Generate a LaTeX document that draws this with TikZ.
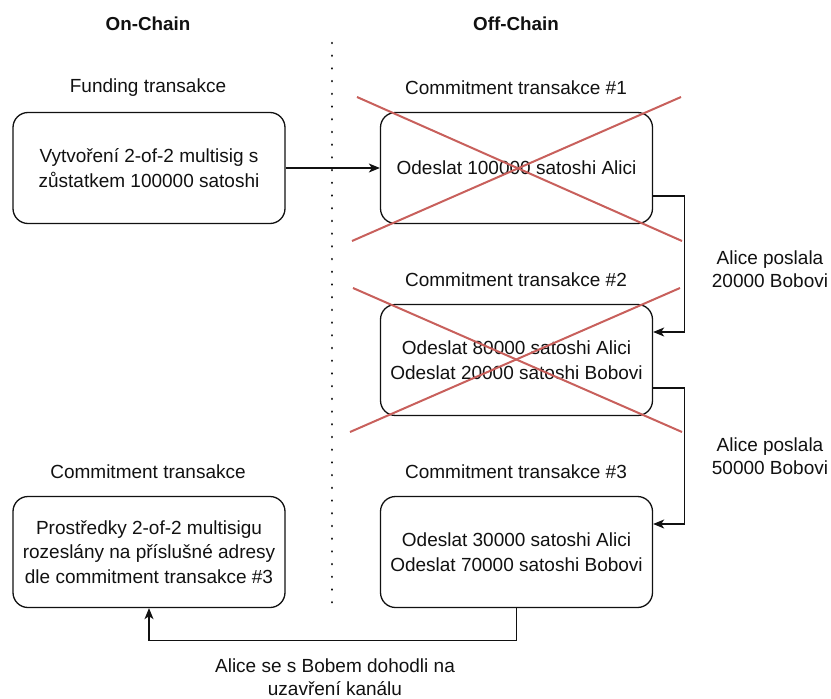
\documentclass[tikz,border=0pt]{standalone}
\usepackage{fontspec}
\setmainfont{Liberation Sans}
\usetikzlibrary{arrows.meta,positioning}
\definecolor{crossred}{HTML}{C8605C}
\definecolor{ink}{HTML}{111111}
\tikzset{
  txbox/.style={draw=ink, line width=1.3pt, rounded corners=15pt, minimum width=272pt,
    minimum height=111pt, align=center, font=\fontsize{19}{24.5}\selectfont, text=ink, inner sep=0pt},
  caption/.style={font=\fontsize{19}{22.5}\selectfont, text=ink, align=center, inner sep=0pt},
  header/.style={font=\bfseries\fontsize{18.8}{22}\selectfont, text=ink, inner sep=0pt},
  conn/.style={draw=ink, line width=1.2pt, -{Stealth[length=11pt,width=9pt,inset=3pt]}},
  cross/.style={draw=crossred, line width=2pt},
  divider/.style={draw=ink, line width=2.6pt, line cap=round, dash pattern=on 0.01pt off 12.7pt}
}
\begin{document}
\begin{tikzpicture}[x=1pt,y=-1pt]
\useasboundingbox (0,0) rectangle (831,699);

% column headers and divider
\node[header] (hon)  at (148,24) {On-Chain};
\node[header] (hoff) at (516,24) {Off-Chain};
\draw[divider] (332,43) -- (332,610);

% captions above boxes
\node[caption] (tfund) at (148,88)  {Funding transakce};
\node[caption] (t1)    at (516,88)  {Commitment transakce \#1};
\node[caption] (t2)    at (516,280) {Commitment transakce \#2};
\node[caption] (t3)    at (516,472) {Commitment transakce \#3};
\node[caption] (tcl)   at (148,472) {Commitment transakce};

% transaction boxes
\node[txbox] (fund)  at (149,168)   {Vytvoření 2-of-2 multisig s\\zůstatkem 100000 satoshi};
\node[txbox] (c1)    at (516.5,168) {Odeslat 100000 satoshi Alici};
\node[txbox] (c2)    at (516.5,360) {Odeslat 80000 satoshi Alici\\Odeslat 20000 satoshi Bobovi};
\node[txbox] (c3)    at (516.5,552) {Odeslat 30000 satoshi Alici\\Odeslat 70000 satoshi Bobovi};
\node[txbox] (close) at (149,552)   {Prostředky 2-of-2 multisigu\\rozeslány na příslušné adresy\\dle commitment transakce \#3};

% revoked commitments
\draw[cross] (357,97) -- (682,241);
\draw[cross] (352,241) -- (681,97);
\draw[cross] (353,288) -- (682,432);
\draw[cross] (350,432) -- (680,288);

% connectors
\draw[conn] (fund.east) -- (c1.west);
\draw[conn] ([yshift=-28pt]c1.east) -- ++(31,0) |- ([yshift=28pt]c2.east);
\draw[conn] ([yshift=-28pt]c2.east) -- ++(31,0) |- ([yshift=28pt]c3.east);
\draw[conn] (c3.south) -- ++(0,32) -| (close.south);

% connector labels
\node[caption] (l1) at (770,269) {Alice poslala\\20000 Bobovi};
\node[caption] (l2) at (770,456) {Alice poslala\\50000 Bobovi};
\node[caption] (l3) at (335,677) {Alice se s Bobem dohodli na\\uzavření kanálu};
\end{tikzpicture}
\end{document}
